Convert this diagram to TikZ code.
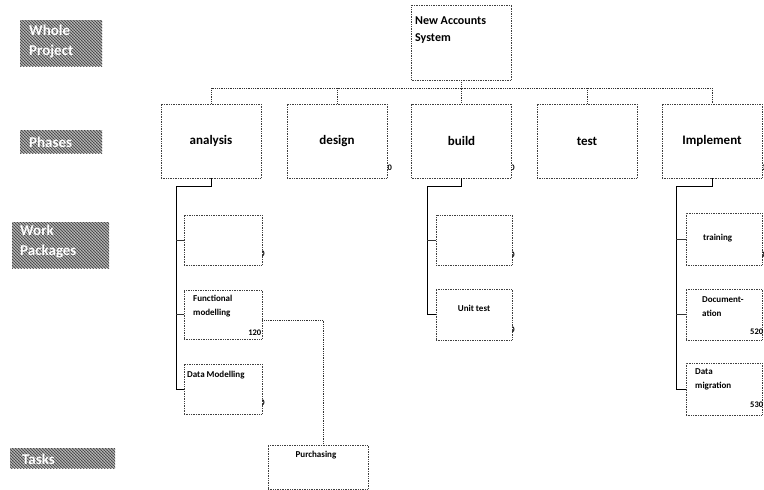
\documentclass[tikz,border=0pt]{standalone}
\usepackage{fontspec}
\setmainfont{Carlito}
\usetikzlibrary{patterns}
\tikzset{
  box/.style={draw=black!75, densely dotted, line width=0.7pt, fill=white, rectangle, inner sep=0pt},
  phasetxt/.style={font=\bfseries\fontsize{13}{14}\selectfont, inner sep=0pt},
  wptxt/.style={font=\bfseries\fontsize{9}{14}\selectfont, inner sep=0pt, align=left},
  numtxt/.style={font=\bfseries\fontsize{8.5}{9}\selectfont, inner sep=0pt},
  lvltxt/.style={font=\bfseries\fontsize{15}{20}\selectfont, text=white, inner sep=0pt, align=left},
  bus/.style={black!80, densely dotted, line width=0.8pt},
  spine/.style={black, line width=1pt},
  branch/.style={black!80, line width=0.6pt},
}
\newcommand\lvlbox[5]{%
  \fill[gray!75] (#2,#3) rectangle (#4,#5);
  \fill[pattern=north east lines, pattern color=white!70!gray] (#2,#3) rectangle (#4,#5);
  \fill[pattern=north west lines, pattern color=black!80] (#2,#3) rectangle (#4,#5);
  \fill[pattern=crosshatch dots, pattern color=black!60] (#2,#3) rectangle (#4,#5);
  \coordinate (#1) at (#2,#3);
}
\newcommand\halfnum[3]{%
  \begin{scope}\clip (#2,0) rectangle (764,490);
  \node[numtxt] (#1) at (#2,#3) {0};
  \end{scope}}
\begin{document}
\begin{tikzpicture}[x=1pt,y=-1pt]
\useasboundingbox (0,0) rectangle (764,490);
\clip (0,0) rectangle (764,490);

% level labels
\lvlbox{lvlA}{20}{20}{102}{66}
\node[lvltxt, anchor=north west] (lblwhole) at (29,25) {Whole\\Project};
\lvlbox{lvlB}{20}{130}{102}{153}
\node[lvltxt, anchor=west] (lblphases) at (29,142) {Phases};
\lvlbox{lvlC}{12}{222}{109}{268}
\node[lvltxt, anchor=north west] (lblwork) at (20,225) {Work\\Packages};
\lvlbox{lvlD}{10}{448}{115}{468}
\node[lvltxt, anchor=west] (lbltasks) at (22,459) {Tasks};

% top
\node[box, minimum width=100pt, minimum height=75pt] (top) at (461.5,42.5) {};
\node[phasetxt, anchor=north west, align=left, font=\bfseries\fontsize{12}{17}\selectfont] (toptxt) at (415,16.5) {New Accounts\\System};

% phases
\foreach \n/\x/\t in {analysis/211/analysis, design/337/design, build/461.5/build, test/587/test, implement/712/Implement}{
  \node[box, minimum width=100pt, minimum height=74pt] (\n) at (\x,141) {};
  \node[phasetxt] (\n txt) at (\x,141) {\t};
}
\coordinate (busL) at (211,88);
\coordinate (busR) at (712,88);
\draw[bus] (analysis.north) -- (busL) -- (busR) -- (implement.north);
\draw[bus] (design.north) -- (design.north |- busL);
\draw[bus] (test.north) -- (test.north |- busL);
\draw[bus] (top.south) -- (build.north);

% marks on phases
\node[numtxt, anchor=west] (dmark) at (387.5,168) {0};
\halfnum{bmark}{512.5}{168}
\halfnum{imark}{763}{168}

% analysis work packages
\node[box, minimum width=78pt, minimum height=50pt] (a1) at (223,240) {};
\node[box, minimum width=78pt, minimum height=49pt] (a2) at (223,314.5) {};
\node[box, minimum width=78pt, minimum height=50pt] (a3) at (223,389) {};
\node[wptxt, anchor=north west] (a2txt) at (193,295) {Functional\\modelling};
\node[numtxt, anchor=east] (a2num) at (261.5,333) {120};
\node[wptxt, anchor=west] (a3txt) at (187,375.5) {Data Modelling};
\halfnum{a1mark}{262.5}{254}
\halfnum{a3mark}{262.5}{403}
\coordinate (aS1) at (211,186);
\coordinate (aS2) at (176,186);
\coordinate (aS3) at (176,389);
\draw[spine] (analysis.south) -- (aS1) -- (aS2) -- (aS3) -- (a3.west);
\draw[branch] (a1.west) -- (a1.west -| aS2);
\draw[branch] (a2.west) -- (a2.west -| aS2);

% build work packages
\node[box, minimum width=76pt, minimum height=50pt] (b1) at (474,240) {};
\node[box, minimum width=76pt, minimum height=51pt] (b2) at (474,314.5) {};
\node[wptxt] (b2txt) at (474,308) {Unit test};
\halfnum{b1mark}{512.5}{255}
\halfnum{b2mark}{512.5}{330}
\coordinate (bS1) at (461.5,186);
\coordinate (bS2) at (427,186);
\coordinate (bS3) at (427,314.5);
\draw[spine] (build.south) -- (bS1) -- (bS2) -- (bS3) -- (b2.west);
\draw[branch] (b1.west) -- (b1.west -| bS2);

% implement work packages
\node[box, minimum width=76pt, minimum height=52pt] (i1) at (724,239) {};
\node[box, minimum width=76pt, minimum height=51pt] (i2) at (724,314.5) {};
\node[box, minimum width=76pt, minimum height=52pt] (i3) at (724,389) {};
\node[wptxt, anchor=west] (i1txt) at (703,238) {training};
\node[wptxt, anchor=north west] (i2txt) at (702,296) {Document-\\ation};
\node[numtxt, anchor=west] (i2num) at (750,332) {520};
\node[wptxt, anchor=north west] (i3txt) at (695,368) {Data\\migration};
\node[numtxt, anchor=west] (i3num) at (750,405) {530};
\halfnum{i1mark}{762.5}{255}
\coordinate (iS1) at (712,186);
\coordinate (iS2) at (676,186);
\coordinate (iS3) at (676,389);
\draw[spine] (implement.south) -- (iS1) -- (iS2) -- (iS3) -- (i3.west);
\draw[branch] (i1.west) -- (i1.west -| iS2);
\draw[branch] (i2.west) -- (i2.west -| iS2);

% task
\node[box, minimum width=100pt, minimum height=44pt] (purch) at (318,467) {};
\node[wptxt] (purchtxt) at (316,455) {Purchasing};
\coordinate (fm1) at (323,320);
\draw[bus] (a2.east |- fm1) -- (fm1) -- (purch.north -| fm1);
\end{tikzpicture}
\end{document}
